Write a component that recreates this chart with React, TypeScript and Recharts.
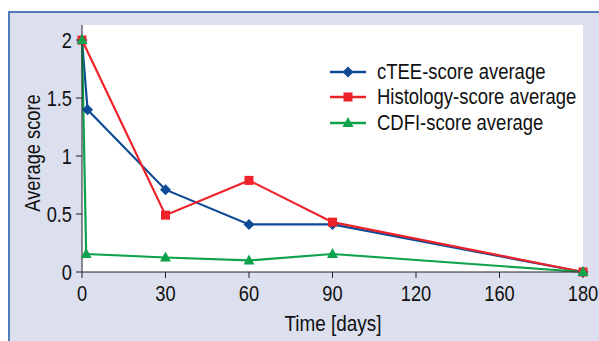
import { LineChart, Line, XAxis, YAxis, CartesianGrid, Legend, Label } from "recharts";

// condensed look: Arial-metric font squeezed horizontally
const FONT = "'Liberation Sans', Arial, sans-serif";
const SQUEEZE = 0.83;

// days after procedure
const cteeDays = [0, 2, 30, 60, 90, 180];
const cteeScores = [2, 1.4, 0.71, 0.41, 0.41, 0];

const histologyDays = [0, 30, 60, 90, 180];
const histologyScores = [2, 0.49, 0.79, 0.43, 0];

const cdfiDays = [0, 1.5, 30, 60, 90, 180];
const cdfiScores = [2, 0.155, 0.125, 0.1, 0.155, 0];

const xTicks = [0, 30, 60, 90, 120, 150, 180];
const xTickLabels = ["0", "30", "60", "90", "120", "160", "180"];
const yTicks = [0, 0.5, 1, 1.5, 2];
const yTickLabels = ["0", "0.5", "1", "1.5", "2"];

const toPoints = (days: number[], scores: number[]) =>
  days.map((d, i) => ({ day: d, score: scores[i] }));

const series = [
  { name: "cTEE-score average", color: "#0f4a96", shape: "diamond", data: toPoints(cteeDays, cteeScores) },
  { name: "Histology-score average", color: "#ee2229", shape: "square", data: toPoints(histologyDays, histologyScores) },
  { name: "CDFI-score average", color: "#0ea24c", shape: "triangle", data: toPoints(cdfiDays, cdfiScores) },
];

function Marker({ cx, cy, shape, color }: { cx: number; cy: number; shape: string; color: string }) {
  if (shape === "diamond") {
    return <polygon points={`${cx},${cy - 5.5} ${cx + 5.5},${cy} ${cx},${cy + 5.5} ${cx - 5.5},${cy}`} fill={color} />;
  }
  if (shape === "square") {
    return <rect x={cx - 4.5} y={cy - 4.5} width={9} height={9} fill={color} />;
  }
  return <polygon points={`${cx},${cy - 6} ${cx + 5.5},${cy + 4} ${cx - 5.5},${cy + 4}`} fill={color} />;
}

function XTick({ x, y, payload }: any) {
  return (
    <text
      transform={`translate(${x},${y + 19}) scale(${SQUEEZE},1)`}
      textAnchor="middle"
      fill="#111"
      fontSize={22}
      fontFamily={FONT}
    >
      {xTickLabels[xTicks.indexOf(payload.value)]}
    </text>
  );
}

function YTick({ x, y, payload }: any) {
  return (
    <text
      transform={`translate(${x},${y + 7.8}) scale(${SQUEEZE},1)`}
      textAnchor="end"
      fill="#111"
      fontSize={22}
      fontFamily={FONT}
    >
      {yTickLabels[yTicks.indexOf(payload.value)]}
    </text>
  );
}

function LegendBox() {
  return (
    <div style={{ fontFamily: FONT, fontSize: 22, color: "#111" }}>
      {series.map((s) => (
        <div key={s.name} style={{ display: "flex", alignItems: "center", height: 25.5, whiteSpace: "nowrap" }}>
          <svg width={40} height={14} style={{ marginRight: 9, flex: "none" }}>
            <line x1={2} y1={7} x2={38} y2={7} stroke={s.color} strokeWidth={2.5} />
            <Marker cx={20} cy={7} shape={s.shape} color={s.color} />
          </svg>
          <span style={{ display: "inline-block", transform: "scaleX(0.84)", transformOrigin: "left center" }}>
            {s.name}
          </span>
        </div>
      ))}
    </div>
  );
}

export default function App() {
  return (
    <div>
      <div
        style={{
          position: "fixed",
          left: 8,
          top: 11,
          width: 591,
          height: 330,
          background: "#dcdfed",
          borderLeft: "2px solid #4f7cbb",
          borderTop: "2px solid #4f7cbb",
          boxSizing: "border-box",
        }}
      />
      <div style={{ position: "fixed", left: 0, top: 0 }}>
        <LineChart width={599} height={341} margin={{ top: 25, right: 16, bottom: 29, left: 22 }}>
          <CartesianGrid horizontal={false} vertical={false} fill="#ffffff" />
          <XAxis
            type="number"
            dataKey="day"
            domain={[0, 180]}
            ticks={xTicks}
            height={40}
            tickSize={6}
            tickMargin={4}
            stroke="#222"
            tick={<XTick />}
          >
            <Label
              content={() => (
                <text
                  transform="translate(333,331) scale(0.86,1)"
                  textAnchor="middle"
                  fill="#111"
                  fontSize={22}
                  fontFamily={FONT}
                >
                  Time [days]
                </text>
              )}
            />
          </XAxis>
          <YAxis
            type="number"
            domain={[0, 2.13]}
            ticks={yTicks}
            width={60}
            tickSize={6}
            tickMargin={4}
            stroke="#222"
            tick={<YTick />}
          >
            <Label
              content={() => (
                <text
                  transform={`translate(40,153) rotate(-90) scale(${SQUEEZE},1)`}
                  textAnchor="middle"
                  fill="#111"
                  fontSize={22}
                  fontFamily={FONT}
                >
                  Average score
                </text>
              )}
            />
          </YAxis>
          <Legend
            layout="horizontal"
            verticalAlign="middle"
            wrapperStyle={{ top: 59, left: 328, width: 262 }}
            content={() => <LegendBox />}
          />
          {series.map((s) => (
            <Line
              key={s.name}
              data={s.data}
              dataKey="score"
              name={s.name}
              type="linear"
              stroke={s.color}
              strokeWidth={2.2}
              isAnimationActive={false}
              dot={(p: any) => <Marker key={`${s.name}-${p.index}`} cx={p.cx} cy={p.cy} shape={s.shape} color={s.color} />}
              activeDot={false}
            />
          ))}
        </LineChart>
      </div>
    </div>
  );
}
